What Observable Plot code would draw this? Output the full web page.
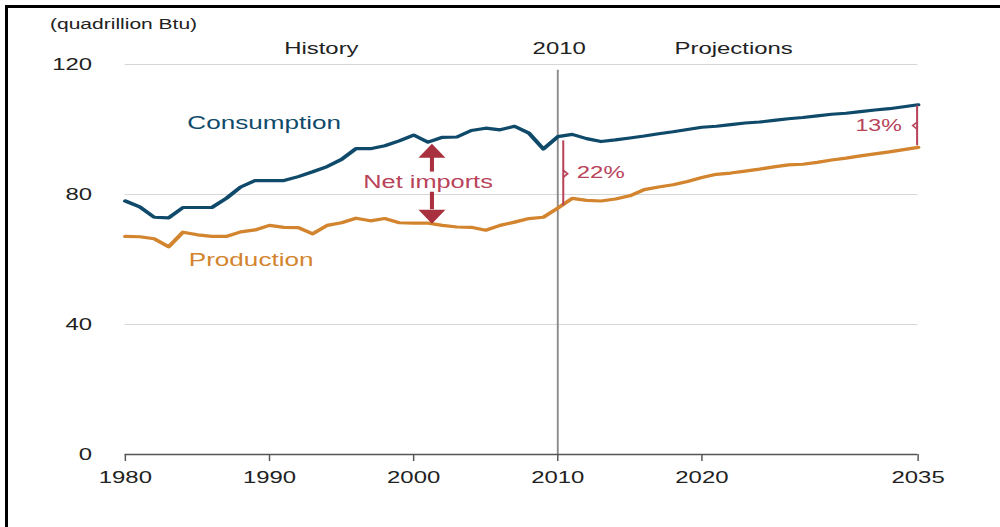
<!DOCTYPE html>
<html>
<head>
<meta charset="utf-8">
<script src="https://cdn.jsdelivr.net/npm/d3@7"></script>
<script src="https://cdn.jsdelivr.net/npm/@observablehq/plot@0.6"></script>
<style>
html, body { margin: 0; padding: 0; background: #fff; overflow: hidden; }
#frame { position: absolute; left: 5px; top: 5px; width: 1100px; height: 700px; border-left: 3px solid #000; border-top: 3px solid #000; }
#chart { position: absolute; left: 0; top: 0; width: 1000px; height: 527px; }
</style>
</head>
<body>
<div id="frame"></div>
<div id="chart"></div>
<script>
// ---- data (quadrillion Btu) ----
const years = [1980,1981,1982,1983,1984,1985,1986,1987,1988,1989,
               1990,1991,1992,1993,1994,1995,1996,1997,1998,1999,
               2000,2001,2002,2003,2004,2005,2006,2007,2008,2009,
               2010,2011,2012,2013,2014,2015,2016,2017,2018,2019,
               2020,2021,2022,2023,2024,2025,2026,2027,2028,2029,
               2030,2031,2032,2033,2034,2035];
const consumption = [78.0,76.2,73.0,72.8,76.0,76.0,76.0,78.8,82.3,84.3,
                     84.3,84.3,85.5,87.0,88.6,90.8,94.1,94.1,95.0,96.5,
                     98.3,96.1,97.6,97.7,99.7,100.4,99.9,101.0,98.9,94.0,
                     97.8,98.5,97.2,96.3,96.8,97.4,98.0,98.7,99.3,100.0,
                     100.7,101.0,101.5,102.0,102.3,102.8,103.3,103.7,104.2,104.7,
                     105.0,105.5,106.0,106.4,107.0,107.6];
const production = [67.1,67.0,66.4,63.9,68.4,67.6,67.1,67.1,68.5,69.1,
                    70.5,69.9,69.8,67.9,70.5,71.3,72.7,71.9,72.6,71.3,
                    71.2,71.2,70.5,70.0,69.9,69.0,70.5,71.5,72.6,73.0,
                    75.8,78.8,78.2,78.0,78.6,79.6,81.5,82.3,83.0,84.0,
                    85.2,86.2,86.6,87.2,87.8,88.5,89.1,89.3,89.9,90.6,
                    91.2,91.9,92.5,93.1,93.8,94.5];
const xTicks = [1980, 1990, 2000, 2010, 2020, 2035];
const yTicks = [0, 40, 80, 120];
const gridValues = [40, 80, 120];
const divider = 2010;
const periodLabels = [
  {x: 1993.6, label: "History"},
  {x: 2010.1, label: "2010"},
  {x: 2022.2, label: "Projections"}
];
const unitLabel = "(quadrillion Btu)";
const seriesLabels = [
  {x: 1984.3, y: 101.8, label: "Consumption", key: "c"},
  {x: 1984.4, y: 59.7, label: "Production", key: "p"}
];
const netImportsLabel = {x: 2001.0, y: 83.7, label: "Net imports"};
const arrowUp = {x: 2001.27, tip: 95.6, base: 91.4, tail: 86.9};
const arrowDown = {x: 2001.27, tip: 71.0, base: 75.3, tail: 80.7};
const bracket2010 = {x: 2010.38, top: 96.5, bottom: 76.5, mid: 86.4, label: "22%", lx: 2011.32, ly: 86.7};
const bracket2035 = {x: 2034.93, top: 107.3, bottom: 95.0, mid: 101.2, label: "13%", lx: 2033.87, ly: 101.2};

// ---- styles ----
const cConsumption = "#0f4a6a";
const cProduction = "#d3842e";
const cArrow = "#a9303f";
const cNote = "#b8435a";
const fontFamily = "'Liberation Sans', Arial, Helvetica, sans-serif";

const W = 690, H = 527; // drawn in a narrower space, then stretched to 1000 px
const data = years.map((year, i) => ({year, consumption: consumption[i], production: production[i]}));

const upHead = {draw(ctx) { ctx.moveTo(0, 0); ctx.lineTo(9.3, 14); ctx.lineTo(-9.3, 14); ctx.closePath(); }};
const downHead = {draw(ctx) { ctx.moveTo(0, 0); ctx.lineTo(9.3, -14); ctx.lineTo(-9.3, -14); ctx.closePath(); }};
const notchRight = {draw(ctx) { ctx.moveTo(0, -3.5); ctx.lineTo(3, 0); ctx.lineTo(0, 3.5); }};
const notchLeft = {draw(ctx) { ctx.moveTo(0, -3.5); ctx.lineTo(-3, 0); ctx.lineTo(0, 3.5); }};

const svg = Plot.plot({
  width: W,
  height: H,
  marginLeft: 86,
  marginRight: 57,
  marginTop: 64,
  marginBottom: 73,
  style: {fontFamily, fontSize: "16.5px", color: "#222", background: "transparent", overflow: "visible"},
  x: {domain: [1980, 2035]},
  y: {domain: [0, 120]},
  marks: [
    Plot.ruleY(gridValues, {stroke: "#d6d6d6", strokeWidth: 1}),
    Plot.ruleX([divider], {y1: 0, y2: 118.2, stroke: "#8a8a8a", strokeWidth: 1.3}),
    Plot.ruleY([0], {stroke: "#555", strokeWidth: 1.5}),
    Plot.axisX({ticks: xTicks, tickSize: 7, tickPadding: 10, tickFormat: d => String(d), stroke: "#555", fill: "#222", fontSize: 16.5, label: null}),
    Plot.axisY({ticks: yTicks, tickSize: 0, tickPadding: 23, tickFormat: d => String(d), fill: "#222", fontSize: 16.5, label: null}),
    Plot.text([unitLabel], {frameAnchor: "top-left", text: d => d, dx: -52, dy: -46, textAnchor: "start", fontSize: 14.5, fill: "#222"}),
    Plot.text(periodLabels, {x: "x", text: "label", frameAnchor: "top", dy: -16, lineAnchor: "middle", fontSize: 16.5, fill: "#222"}),
    Plot.line(data, {x: "year", y: "production", stroke: cProduction, strokeWidth: 3.2, strokeLinejoin: "round", strokeLinecap: "round"}),
    Plot.line(data, {x: "year", y: "consumption", stroke: cConsumption, strokeWidth: 3.2, strokeLinejoin: "round", strokeLinecap: "round"}),
    Plot.text(seriesLabels, {x: "x", y: "y", text: "label", textAnchor: "start", fontSize: 18, fill: d => d.key === "c" ? cConsumption : cProduction}),
    // net imports arrows
    Plot.ruleX([arrowUp], {x: "x", y1: "tail", y2: "base", stroke: cArrow, strokeWidth: 2.8}),
    Plot.dot([arrowUp], {x: "x", y: "tip", symbol: upHead, fill: cArrow, stroke: "none"}),
    Plot.ruleX([arrowDown], {x: "x", y1: "tail", y2: "base", stroke: cArrow, strokeWidth: 2.8}),
    Plot.dot([arrowDown], {x: "x", y: "tip", symbol: downHead, fill: cArrow, stroke: "none"}),
    Plot.text([netImportsLabel], {x: "x", y: "y", text: "label", fontSize: 17.5, fill: cNote}),
    // brackets
    Plot.ruleX([bracket2010], {x: "x", y1: "bottom", y2: "top", stroke: cNote, strokeWidth: 1.4}),
    Plot.dot([bracket2010], {x: "x", y: "mid", symbol: notchRight, stroke: cNote, fill: "none", strokeWidth: 1.4}),
    Plot.text([bracket2010], {x: "lx", y: "ly", text: "label", textAnchor: "start", fontSize: 16.5, fill: cNote}),
    Plot.ruleX([bracket2035], {x: "x", y1: "bottom", y2: "top", stroke: cNote, strokeWidth: 1.4}),
    Plot.dot([bracket2035], {x: "x", y: "mid", symbol: notchLeft, stroke: cNote, fill: "none", strokeWidth: 1.4}),
    Plot.text([bracket2035], {x: "lx", y: "ly", text: "label", textAnchor: "end", fontSize: 16, fill: cNote})
  ]
});

svg.setAttribute("width", 1000);
svg.setAttribute("height", 527);
svg.setAttribute("preserveAspectRatio", "none");
svg.style.width = "1000px";
svg.style.height = "527px";
svg.style.maxWidth = "none";
document.getElementById("chart").appendChild(svg);
</script>
</body>
</html>
